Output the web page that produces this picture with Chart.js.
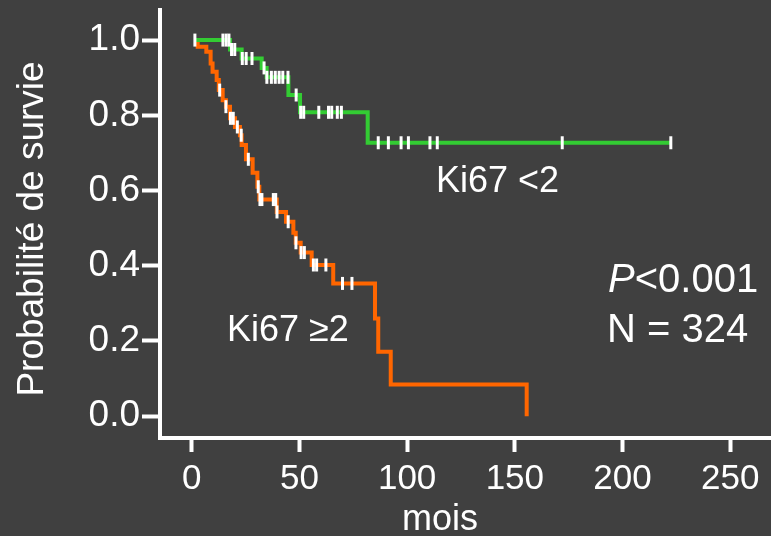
<!DOCTYPE html>
<html>
<head>
<meta charset="utf-8">
<script src="https://cdn.jsdelivr.net/npm/chart.js@4.4.1/dist/chart.umd.min.js"></script>
<style>
  html, body { margin: 0; padding: 0; background: #404040; }
  #wrap { width: 771px; height: 536px; position: relative; }
</style>
</head>
<body>
<div id="wrap"><canvas id="c"></canvas></div>
<script>
// Kaplan-Meier curves (mois, probabilité)
const lowTimes = [1.5, 17.8, 23.2, 32.5, 34.8, 44.9, 50.3, 81.7, 222.4];
const lowSurv = [1.0, 0.975, 0.951, 0.926, 0.901, 0.854, 0.808, 0.727, 0.727];
const lowCensored = [1.5, 14.5, 16.0, 17.3, 18.5, 20.0, 23.5, 25.3, 28.0, 33.6, 34.9, 37.0, 38.8,
  40.6, 42.3, 44.7, 48.5, 50.6, 52.0, 59.0, 63.5, 65.0, 67.6, 69.5, 86.6, 91.3, 97.2, 100.6,
  110.6, 114.0, 172.0, 222.4];

const highTimes = [1.5, 2.8, 6.8, 8.8, 9.7, 11.6, 12.6, 14.4, 15.9, 17.8, 20.1, 22.4, 23.2, 25.2,
  28.3, 30.5, 31.4, 39.5, 43.8, 47.2, 48.3, 50.6, 55.7, 65.7, 85.1, 86.6, 92.4, 155.5];
const highSurv = [1.0, 0.982, 0.969, 0.938, 0.916, 0.894, 0.867, 0.840, 0.823, 0.792, 0.769, 0.747,
  0.721, 0.683, 0.647, 0.610, 0.576, 0.543, 0.517, 0.488, 0.461, 0.435, 0.402, 0.353, 0.260,
  0.171, 0.084, 0.0];
const highCensored = [13.0, 15.9, 18.0, 19.3, 21.2, 23.0, 26.3, 30.9, 31.7, 32.6, 37.9, 39.0, 39.6,
  44.8, 48.4, 50.8, 52.3, 56.5, 58.0, 62.3, 70.0, 74.4];

const xTicks = [0, 50, 100, 150, 200, 250];
const yTicks = [0, 0.2, 0.4, 0.6, 0.8, 1.0];

const FONT = '"Liberation Sans", Arial, sans-serif';
const GREEN = '#33cc33';
const ORANGE = '#ff6600';

function stepValue(times, surv, t) {
  let s = surv[0];
  for (let i = 0; i < times.length; i++) {
    if (times[i] <= t) s = surv[i];
  }
  return s;
}

const toPoints = (times, surv) => times.map((t, i) => ({ x: t, y: surv[i] }));
const censorPoints = (cens, times, surv) => cens.map(t => ({ x: t, y: stepValue(times, surv, t) }));

const censorStyle = {
  showLine: false,
  pointStyle: 'line',
  rotation: 90,
  pointRadius: 6.5,
  pointBorderWidth: 3,
  pointBorderColor: '#ffffff',
  pointBackgroundColor: '#ffffff',
  pointHoverRadius: 0,
  order: 0,
};

// fixed axis box sizes, no extra label padding from Chart.js
function fixBox(s) {
  if (s.isHorizontal()) {
    s.height = 98;
  } else {
    s.width = 160;
  }
  s.paddingTop = 0;
  s.paddingBottom = 0;
  s.paddingLeft = 0;
  s.paddingRight = 0;
}

const textPlugin = {
  id: 'texts',
  afterDraw(chart) {
    const ctx = chart.ctx;
    ctx.save();
    ctx.fillStyle = '#ffffff';
    ctx.textBaseline = 'alphabetic';
    ctx.textAlign = 'left';

    ctx.font = '36px ' + FONT;
    ctx.fillText('Ki67 <2', 436, 192);
    ctx.fillText('Ki67 \u22652', 227, 341);

    ctx.font = 'italic 40px ' + FONT;
    ctx.fillText('P', 608, 292);
    const pw = ctx.measureText('P').width;
    ctx.font = '40px ' + FONT;
    ctx.fillText('<0.001', 608 + pw, 292);
    ctx.fillText('N = 324', 607, 342);

    ctx.font = '36px ' + FONT;
    ctx.textAlign = 'center';
    ctx.fillText('mois', 440, 530);

    ctx.font = '37px ' + FONT;
    ctx.translate(43, 229);
    ctx.rotate(-Math.PI / 2);
    ctx.fillText('Probabilit\u00e9 de survie', 0, 0);
    ctx.restore();
  }
};

new Chart(document.getElementById('c'), {
  type: 'line',
  data: {
    datasets: [
      Object.assign({ data: censorPoints(lowCensored, lowTimes, lowSurv) }, censorStyle),
      Object.assign({ data: censorPoints(highCensored, highTimes, highSurv) }, censorStyle),
      {
        data: toPoints(lowTimes, lowSurv),
        borderColor: GREEN,
        borderWidth: 4,
        stepped: 'before',
        pointRadius: 0,
        fill: false,
        order: 1,
      },
      {
        data: toPoints(highTimes, highSurv),
        borderColor: ORANGE,
        borderWidth: 4,
        stepped: 'before',
        pointRadius: 0,
        fill: false,
        order: 2,
      },
    ],
  },
  options: {
    responsive: true,
    maintainAspectRatio: false,
    animation: false,
    devicePixelRatio: 1,
    layout: { autoPadding: false, padding: { top: 10, left: 0, right: 0, bottom: 0 } },
    plugins: { legend: { display: false }, tooltip: { enabled: false } },
    scales: {
      x: {
        type: 'linear',
        min: -14.7,
        max: 268.9,
        afterBuildTicks: s => { s.ticks = xTicks.map(v => ({ value: v })); },
        afterFit: fixBox,
        border: { display: true, color: '#ffffff', width: 4 },
        grid: { drawOnChartArea: false, drawTicks: true, tickLength: 14, tickWidth: 4, tickColor: '#ffffff' },
        ticks: { color: '#ffffff', font: { family: FONT, size: 35 }, padding: 6, maxRotation: 0, autoSkip: false,
          callback: v => String(v) },
      },
      y: {
        type: 'linear',
        min: -0.058,
        max: 1.080,
        afterBuildTicks: s => { s.ticks = yTicks.map(v => ({ value: v })); },
        afterFit: fixBox,
        border: { display: true, color: '#ffffff', width: 4 },
        grid: { drawOnChartArea: false, drawTicks: true, tickLength: 18, tickWidth: 4, tickColor: '#ffffff' },
        ticks: { color: '#ffffff', font: { family: FONT, size: 37 }, padding: 2, autoSkip: false,
          callback: v => v.toFixed(1) },
      },
    },
  },
  plugins: [textPlugin],
});
</script>
</body>
</html>
